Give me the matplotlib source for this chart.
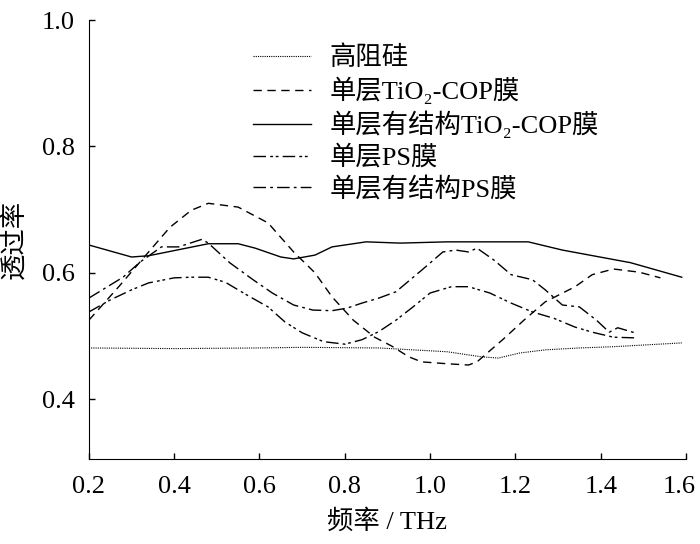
import numpy as np
import matplotlib
matplotlib.use('Agg')
import matplotlib.pyplot as plt
from matplotlib.transforms import ScaledTranslation

# 字体: 数字用 Times 风格, 中文回落到 Noto Sans CJK
plt.rcParams['font.family'] = ['Liberation Serif', 'Noto Sans CJK SC', 'DejaVu Serif']

# 高阻硅
freq_si = [0.20, 0.40, 0.60, 0.70, 0.88, 0.96, 1.04, 1.12, 1.16, 1.21, 1.27, 1.35, 1.43, 1.51, 1.59]
t_si = [0.481, 0.480, 0.481, 0.482, 0.481, 0.478, 0.475, 0.467, 0.465, 0.473, 0.478, 0.481, 0.483, 0.486, 0.489]

# 单层TiO2-COP膜
freq_tio2 = [0.20, 0.27, 0.34, 0.39, 0.44, 0.48, 0.55, 0.62, 0.68, 0.73, 0.77, 0.82, 0.87,
             0.91, 0.95, 0.98, 1.04, 1.09, 1.11, 1.17, 1.22, 1.27, 1.34, 1.38, 1.43, 1.49, 1.54]
t_tio2 = [0.525, 0.578, 0.633, 0.672, 0.699, 0.710, 0.704, 0.679, 0.633, 0.600, 0.562, 0.525, 0.498,
          0.484, 0.467, 0.459, 0.456, 0.454, 0.459, 0.494, 0.525, 0.554, 0.578, 0.597, 0.606, 0.601, 0.592]

# 单层有结构TiO2-COP膜
freq_s_tio2 = [0.20, 0.30, 0.34, 0.48, 0.55, 0.59, 0.65, 0.68, 0.73, 0.77, 0.85, 0.93, 1.04,
               1.23, 1.31, 1.47, 1.59]
t_s_tio2 = [0.644, 0.625, 0.627, 0.646, 0.646, 0.639, 0.625, 0.622, 0.628, 0.641, 0.649, 0.647, 0.649,
            0.649, 0.636, 0.616, 0.593]

# 单层PS膜
freq_ps = [0.20, 0.25, 0.30, 0.34, 0.40, 0.44, 0.48, 0.52, 0.57, 0.62, 0.66, 0.70, 0.75, 0.80, 0.84,
           0.88, 0.92, 0.96, 1.00, 1.05, 1.09, 1.14, 1.19, 1.24, 1.29, 1.34, 1.38, 1.43, 1.48]
t_ps = [0.538, 0.557, 0.573, 0.584, 0.592, 0.593, 0.593, 0.585, 0.565, 0.546, 0.522, 0.505, 0.491, 0.487, 0.494,
        0.507, 0.525, 0.546, 0.568, 0.578, 0.578, 0.568, 0.552, 0.538, 0.528, 0.514, 0.506, 0.498, 0.497]

# 单层有结构PS膜
freq_s_ps = [0.20, 0.28, 0.32, 0.37, 0.41, 0.465, 0.48, 0.53, 0.585, 0.63, 0.68, 0.725, 0.77, 0.805, 0.84,
             0.88, 0.92, 0.98, 1.03, 1.06, 1.09, 1.11, 1.15, 1.19, 1.24, 1.27, 1.31, 1.35, 1.39, 1.42, 1.44, 1.48]
t_s_ps = [0.560, 0.593, 0.617, 0.641, 0.641, 0.653, 0.647, 0.616, 0.589, 0.568, 0.549, 0.541, 0.540, 0.544, 0.552,
          0.560, 0.570, 0.604, 0.633, 0.636, 0.633, 0.639, 0.620, 0.597, 0.589, 0.573, 0.549, 0.546, 0.525, 0.506, 0.513, 0.505]

labels = ['高阻硅', '单层TiO₂-COP膜', '单层有结构TiO₂-COP膜', '单层PS膜', '单层有结构PS膜']
x_ticks = [0.2, 0.4, 0.6, 0.8, 1.0, 1.2, 1.4, 1.6]
y_ticks = [0.4, 0.6, 0.8, 1.0]

fig = plt.figure(figsize=(7, 5.44), dpi=100)
ax = fig.add_axes([0.127, 0.156, 0.853, 0.807])

lw = 1.0
ax.plot(freq_si, t_si, color='black', lw=0.8, linestyle=(0, (1, 1)), label=labels[0])
ax.plot(freq_tio2, t_tio2, color='black', lw=lw, linestyle=(0, (6, 4)), label=labels[1])
ax.plot(freq_s_tio2, t_s_tio2, color='black', lw=lw, linestyle='-', label=labels[2])
ax.plot(freq_ps, t_ps, color='black', lw=lw, linestyle=(0, (9, 3, 2, 2, 2, 3)), label=labels[3])
ax.plot(freq_s_ps, t_s_ps, color='black', lw=lw, linestyle=(0, (9, 3, 2, 3)), label=labels[4])

ax.set_xlim(0.2, 1.6)
ax.set_ylim(0.305, 1.0)
ax.set_xticks(x_ticks)
ax.set_xticklabels(['%.1f' % v for v in x_ticks])
ax.set_yticks(y_ticks)
ax.set_yticklabels(['%.1f' % v for v in y_ticks])
ax.tick_params(direction='in', length=4, width=1, labelsize=19)
ax.tick_params(axis='x', pad=12)
ax.tick_params(axis='y', pad=10)
ax.spines['top'].set_visible(False)
ax.spines['right'].set_visible(False)
ax.set_xlabel('频率 / THz', fontsize=19, labelpad=8)
ax.set_ylabel('透过率', fontsize=19, labelpad=11)

# 最右边的 1.6 稍微左移, 免得被裁掉
last = ax.get_xticklabels()[-1]
last.set_transform(last.get_transform() + ScaledTranslation(-5 / 72, 0, fig.dpi_scale_trans))

ax.legend(loc='upper left', bbox_to_anchor=(0.275, 0.943), frameon=False, fontsize=19,
          handlelength=2.2, handletextpad=0.7, labelspacing=0.26, borderpad=0, borderaxespad=0)

fig.savefig('out.png', dpi=100)
